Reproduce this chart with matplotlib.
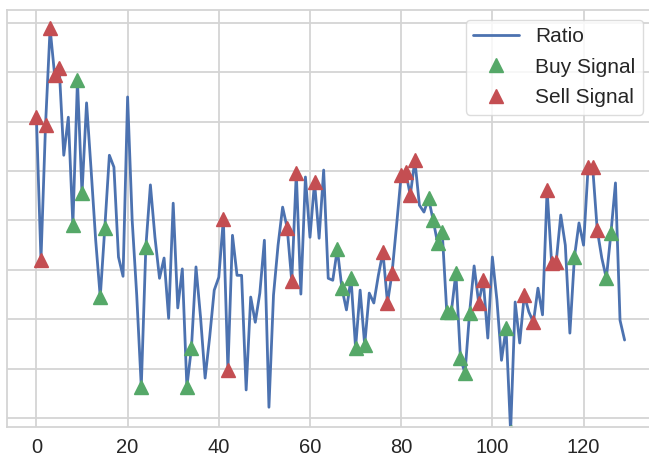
import matplotlib.pyplot as plt
import numpy as np
import seaborn as sns

# ratio series (grid units, y tick labels are cropped away)
ratio = [6.09, 3.20, 5.93, 7.89, 6.94, 7.09, 5.32, 6.09, 3.91, 6.84,
         4.55, 6.38, 5.02, 3.60, 2.45, 3.85, 5.32, 5.08, 3.26, 2.87,
         6.50, 4.01, 2.49, 0.63, 3.46, 4.72, 3.66, 2.83, 3.24, 2.02,
         4.35, 2.23, 3.02, 0.63, 1.42, 3.06, 2.04, 0.81, 1.64, 2.59,
         2.85, 4.03, 0.97, 3.70, 2.89, 2.89, 0.57, 2.45, 1.94, 2.53,
         3.60, 0.22, 2.49, 3.50, 4.27, 3.85, 2.77, 4.96, 2.51, 4.88,
         3.66, 4.78, 3.64, 5.02, 2.83, 2.79, 3.42, 2.63, 2.19, 2.83,
         1.42, 2.59, 1.48, 2.53, 2.33, 2.89, 3.36, 2.33, 2.94, 3.91,
         4.92, 4.98, 4.51, 5.22, 4.31, 4.17, 4.45, 4.01, 3.54, 3.77,
         2.15, 2.15, 2.94, 1.21, 0.91, 2.13, 3.08, 2.33, 2.79, 1.62,
         3.26, 2.39, 1.17, 1.82, -0.28, 2.35, 1.52, 2.49, 2.15, 1.94,
         2.63, 2.09, 4.62, 3.14, 3.16, 4.11, 3.50, 1.72, 3.26, 3.95,
         3.50, 5.08, 5.08, 3.81, 3.24, 2.83, 3.74, 4.76, 1.98, 1.58]

buy_idx = [8, 9, 10, 14, 15, 23, 24, 33, 34, 66, 67, 69, 70, 72,
           86, 87, 88, 89, 90, 91, 92, 93, 94, 95, 103, 104, 118, 125, 126]
sell_idx = [0, 1, 2, 3, 4, 5, 41, 42, 55, 56, 57, 61, 76, 77, 78,
            80, 81, 82, 83, 97, 98, 107, 109, 112, 113, 114, 121, 122, 123]

x_ticks = [0, 20, 40, 60, 80, 100, 120]
y_grid = [0, 1, 2, 3, 4, 5, 6, 7, 8]

sns.set_style('whitegrid')
plt.rcParams['font.family'] = ['Liberation Sans', 'DejaVu Sans']

ratio = np.array(ratio)
days = np.arange(len(ratio))

fig = plt.figure(figsize=(6.49, 4.61), dpi=100)
# left edge of the axes sits near the image border, right edge runs off it
ax = fig.add_axes([7 / 649, 34 / 461, 647 / 649, 417 / 461])

ax.plot(days, ratio, color='#4C72B0', lw=2, label='Ratio')
ax.plot(buy_idx, ratio[buy_idx], '^', color='#55A868', ms=10, lw=0,
        label='Buy Signal')
ax.plot(sell_idx, ratio[sell_idx], '^', color='#C44E52', ms=10, lw=0,
        label='Sell Signal')

ax.set_xticks(x_ticks)
ax.set_yticks(y_grid)
ax.set_yticklabels([])
ax.set_ylim(-0.18, 8.26)
ax.tick_params(axis='x', labelsize=14.5, pad=8, length=0)
ax.tick_params(axis='y', length=0)
ax.grid(True, color='#d4d4d4', lw=1.3)
for s in ax.spines.values():
    s.set_color('#d4d4d4')
    s.set_linewidth(1.3)

ax.legend(loc='upper right', bbox_to_anchor=(643 / 649, 1 - 20 / 461),
          bbox_transform=fig.transFigure, borderaxespad=0, fontsize=15,
          handlelength=2.2, handletextpad=0.8, labelspacing=0.55,
          borderpad=0.35, numpoints=1, frameon=True, edgecolor='#d4d4d4')

plt.savefig('out.png', dpi=100)
